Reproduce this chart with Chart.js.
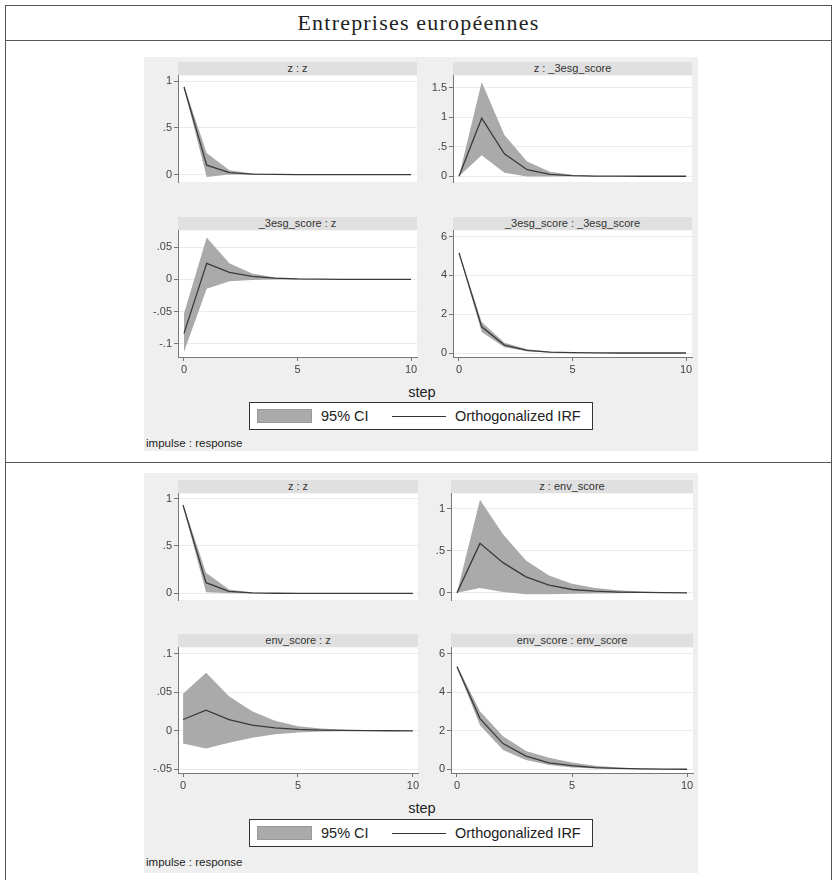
<!DOCTYPE html>
<html>
<head>
<meta charset="utf-8">
<title>Entreprises européennes</title>
<script src="https://cdn.jsdelivr.net/npm/chart.js@4.4.1/dist/chart.umd.min.js"></script>
<style>
    html, body { margin: 0; padding: 0; background: #fff; }
    body { width: 834px; height: 880px; position: relative; overflow: hidden; font-family: "Liberation Sans", Arial, sans-serif; color: #222; }
    .hline { position: absolute; height: 1px; background: #555; }
    .vline { position: absolute; width: 1px; background: #555; }
    .title { position: absolute; left: 5px; width: 827px; top: 11px; line-height: 24px; text-align: center;
             font-family: "Liberation Serif", "DejaVu Serif", serif; font-size: 22px; letter-spacing: 1.2px; color: #222; }
    .panel { position: absolute; left: 144px; width: 554px; background: #efefef; }
    .strip { position: absolute; height: 13px; line-height: 13px; background: #e0e0e0; color: #333; font-size: 11px; text-align: center; }
    .step { position: absolute; left: 372px; width: 100px; text-align: center; font-size: 14.5px; line-height: 16px; color: #222; }
    .note { position: absolute; left: 146px; font-size: 11.5px; line-height: 14px; color: #222; }
    .legend { position: absolute; left: 249px; width: 342px; height: 26px; background: #fff; border: 1px solid #333; }
    .legend .swatch { position: absolute; left: 7px; top: 6px; width: 53px; height: 12px; background: #aaa; border: 1px solid #999; }
    .legend .sample { position: absolute; left: 142px; top: 13px; width: 54px; height: 1px; background: #333; }
    .legend .lbl { position: absolute; top: 5px; font-size: 14.5px; line-height: 16px; color: #222; }
    canvas { position: absolute; }
</style>
</head>
<body>

<div class="hline" style="left:5px; width:827px; top:5px"></div>
<div class="hline" style="left:5px; width:827px; top:40px"></div>
<div class="hline" style="left:5px; width:827px; top:462px"></div>
<div class="vline" style="left:5px; top:5px; height:875px"></div>
<div class="vline" style="left:831px; top:5px; height:875px"></div>
<div class="title">Entreprises européennes</div>

<div class="panel" style="top:57px; height:394px"></div>
<div class="panel" style="top:473px; height:400px"></div>

<div class="step" style="top:384px">step</div>
<div class="step" style="top:800px">step</div>

<div class="legend" style="top:402px">
    <span class="swatch"></span><span class="lbl" style="left:71px">95% CI</span>
    <span class="sample"></span><span class="lbl" style="left:205px">Orthogonalized IRF</span>
</div>
<div class="legend" style="top:819px">
    <span class="swatch"></span><span class="lbl" style="left:71px">95% CI</span>
    <span class="sample"></span><span class="lbl" style="left:205px">Orthogonalized IRF</span>
</div>

<div class="note" style="top:436px">impulse : response</div>
<div class="note" style="top:855px">impulse : response</div>

<script>
// horizon
const steps = [0, 1, 2, 3, 4, 5, 6, 7, 8, 9, 10];
const stepTicks = [0, 5, 10];

// tick values / labels (Stata style)
const zzTicks = [0, 0.5, 1];
const zzLabels = ['0', '.5', '1'];
const esgZeTicks = [0, 0.5, 1, 1.5];
const esgZeLabels = ['0', '.5', '1', '1.5'];
const esgEzTicks = [-0.1, -0.05, 0, 0.05];
const esgEzLabels = ['-.1', '-.05', '0', '.05'];
const eeTicks = [0, 2, 4, 6];
const eeLabels = ['0', '2', '4', '6'];
const envEzTicks = [-0.05, 0, 0.05, 0.1];
const envEzLabels = ['-.05', '0', '.05', '.1'];

// _3esg_score model
const esgZzIrf = [0.94, 0.10, 0.02, 0.005, 0.001, 0, 0, 0, 0, 0, 0];
const esgZzLo  = [0.925, -0.025, 0.0, 0.0, 0, 0, 0, 0, 0, 0, 0];
const esgZzHi  = [0.955, 0.23, 0.045, 0.01, 0.002, 0, 0, 0, 0, 0, 0];

const esgZeIrf = [0, 0.985, 0.38, 0.11, 0.03, 0.01, 0.003, 0.001, 0, 0, 0];
const esgZeLo  = [0, 0.355, 0.06, -0.005, -0.005, -0.002, -0.001, 0, 0, 0, 0];
const esgZeHi  = [0, 1.60, 0.70, 0.25, 0.075, 0.02, 0.006, 0.002, 0.001, 0, 0];

const esgEzIrf = [-0.084, 0.025, 0.011, 0.0046, 0.002, 0.0007, 0.0003, 0.0001, 0, 0, 0];
const esgEzLo  = [-0.113, -0.0145, -0.003, -0.001, 0, 0, 0, 0, 0, 0, 0];
const esgEzHi  = [-0.053, 0.065, 0.025, 0.009, 0.003, 0.001, 0.0004, 0.0002, 0.0001, 0, 0];

const esgEeIrf = [5.16, 1.35, 0.41, 0.14, 0.05, 0.02, 0.007, 0.002, 0.001, 0, 0];
const esgEeLo  = [5.10, 1.09, 0.30, 0.09, 0.03, 0.01, 0.003, 0.001, 0, 0, 0];
const esgEeHi  = [5.22, 1.60, 0.53, 0.20, 0.07, 0.03, 0.01, 0.004, 0.002, 0.001, 0];

// env_score model
const envZzIrf = [0.93, 0.113, 0.02, 0.005, 0.001, 0, 0, 0, 0, 0, 0];
const envZzLo  = [0.915, 0.011, 0.0, 0.001, 0, 0, 0, 0, 0, 0, 0];
const envZzHi  = [0.945, 0.217, 0.04, 0.008, 0.002, 0, 0, 0, 0, 0, 0];

const envZeIrf = [0, 0.59, 0.36, 0.19, 0.092, 0.04, 0.02, 0.01, 0.005, 0.002, 0.001];
const envZeLo  = [0, 0.059, 0.01, -0.017, -0.017, -0.012, -0.007, -0.004, -0.002, -0.001, 0];
const envZeHi  = [0, 1.11, 0.70, 0.386, 0.206, 0.108, 0.059, 0.03, 0.015, 0.007, 0.003];

const envEzIrf = [0.0147, 0.0267, 0.0147, 0.0074, 0.0039, 0.002, 0.001, 0.0005, 0.0002, 0.0001, 0];
const envEzLo  = [-0.0163, -0.0228, -0.0155, -0.009, -0.0043, -0.002, -0.001, -0.0005, -0.0002, -0.0001, 0];
const envEzHi  = [0.048, 0.0755, 0.045, 0.0255, 0.013, 0.006, 0.003, 0.0015, 0.0007, 0.0003, 0.0001];

const envEeIrf = [5.34, 2.64, 1.34, 0.69, 0.34, 0.19, 0.09, 0.05, 0.02, 0.01, 0.005];
const envEeLo  = [5.28, 2.29, 1.00, 0.48, 0.22, 0.10, 0.04, 0.02, 0.01, 0.0, 0.0];
const envEeHi  = [5.40, 3.02, 1.72, 0.96, 0.60, 0.35, 0.19, 0.10, 0.05, 0.02, 0.01];

const Y_AXIS_W = 40;
const PAD = 8;
const X_AXIS_H = 22;

// plot rect = [left, top, width, height] of the white plot region
const subplots = [
    { title: 'z : z', plot: [178, 75, 239, 129], x: [-0.264, 10.264], y: [-0.08, 1.062],
      ticks: zzTicks, labels: zzLabels, irf: esgZzIrf, lo: esgZzLo, hi: esgZzHi, bottom: false },
    { title: 'z : _3esg_score', plot: [453, 75, 239, 129], x: [-0.264, 10.264], y: [-0.098, 1.709],
      ticks: esgZeTicks, labels: esgZeLabels, irf: esgZeIrf, lo: esgZeLo, hi: esgZeHi, bottom: false },
    { title: '_3esg_score : z', plot: [178, 230, 239, 127], x: [-0.264, 10.264], y: [-0.1207, 0.0759],
      ticks: esgEzTicks, labels: esgEzLabels, irf: esgEzIrf, lo: esgEzLo, hi: esgEzHi, bottom: true },
    { title: '_3esg_score : _3esg_score', plot: [453, 230, 239, 127], x: [-0.264, 10.264], y: [-0.205, 6.31],
      ticks: eeTicks, labels: eeLabels, irf: esgEeIrf, lo: esgEeLo, hi: esgEeHi, bottom: true },

    { title: 'z : z', plot: [178, 493, 240, 129], x: [-0.22, 10.22], y: [-0.07, 1.052],
      ticks: zzTicks, labels: zzLabels, irf: envZzIrf, lo: envZzLo, hi: envZzHi, bottom: false },
    { title: 'z : env_score', plot: [451, 493, 242, 129], x: [-0.26, 10.26], y: [-0.085, 1.183],
      ticks: zzTicks, labels: zzLabels, irf: envZeIrf, lo: envZeLo, hi: envZeHi, bottom: false },
    { title: 'env_score : z', plot: [178, 647, 240, 126], x: [-0.22, 10.22], y: [-0.0547, 0.108],
      ticks: envEzTicks, labels: envEzLabels, irf: envEzIrf, lo: envEzLo, hi: envEzHi, bottom: true },
    { title: 'env_score : env_score', plot: [451, 647, 242, 126], x: [-0.26, 10.26], y: [-0.19, 6.33],
      ticks: eeTicks, labels: eeLabels, irf: envEeIrf, lo: envEeLo, hi: envEeHi, bottom: true }
];

const tickFont = { family: '"Liberation Sans", Arial, sans-serif', size: 11 };

const plotBackground = {
    id: 'plotBackground',
    beforeDraw(chart) {
        const { ctx, chartArea: a } = chart;
        ctx.save();
        ctx.fillStyle = '#ffffff';
        ctx.fillRect(a.left, a.top, a.right - a.left, a.bottom - a.top);
        ctx.restore();
    }
};

function toPoints(values) {
    return steps.map((s, i) => ({ x: s, y: values[i] }));
}

function buildSubplot(sp) {
    const [left, top, width, height] = sp.plot;
    const xAxisH = sp.bottom ? X_AXIS_H : 0;

    // header strip
    const strip = document.createElement('div');
    strip.className = 'strip';
    strip.style.left = left + 'px';
    strip.style.top = (top - 13) + 'px';
    strip.style.width = width + 'px';
    strip.textContent = sp.title;
    document.body.appendChild(strip);

    const canvas = document.createElement('canvas');
    canvas.width = Y_AXIS_W + width + PAD;
    canvas.height = PAD + height + xAxisH + PAD;
    canvas.style.left = (left - Y_AXIS_W) + 'px';
    canvas.style.top = (top - PAD) + 'px';
    document.body.appendChild(canvas);

    new Chart(canvas, {
        type: 'line',
        data: {
            datasets: [
                { data: toPoints(sp.irf), borderColor: '#3a3a3a', borderWidth: 1.3, pointRadius: 0, fill: false, tension: 0 },
                { data: toPoints(sp.lo), borderColor: 'rgba(0,0,0,0)', borderWidth: 0, pointRadius: 0, fill: false, tension: 0 },
                { data: toPoints(sp.hi), borderColor: 'rgba(0,0,0,0)', borderWidth: 0, pointRadius: 0, fill: '-1',
                  backgroundColor: '#aaaaaa', tension: 0 }
            ]
        },
        options: {
            responsive: false,
            animation: false,
            devicePixelRatio: 1,
            layout: { padding: { left: 0, top: PAD, right: PAD, bottom: PAD } },
            plugins: { legend: { display: false }, tooltip: { enabled: false } },
            scales: {
                x: {
                    type: 'linear',
                    display: sp.bottom,
                    min: sp.x[0],
                    max: sp.x[1],
                    afterBuildTicks: (scale) => { scale.ticks = stepTicks.map(v => ({ value: v })); },
                    afterFit: (scale) => { scale.height = X_AXIS_H; },
                    grid: { drawOnChartArea: false, tickLength: 4, tickColor: '#777' },
                    border: { color: '#777' },
                    ticks: { font: tickFont, color: '#444', padding: 2, maxRotation: 0, autoSkip: false }
                },
                y: {
                    type: 'linear',
                    min: sp.y[0],
                    max: sp.y[1],
                    afterBuildTicks: (scale) => { scale.ticks = sp.ticks.map(v => ({ value: v })); },
                    afterFit: (scale) => { scale.width = Y_AXIS_W; },
                    grid: { color: '#ebebeb', tickColor: '#777', tickLength: 4 },
                    border: { color: '#777' },
                    ticks: { font: tickFont, color: '#444', padding: 2, autoSkip: false,
                             callback: (value, index) => sp.labels[index] }
                }
            }
        },
        plugins: [plotBackground]
    });
}

subplots.forEach(buildSubplot);
</script>
</body>
</html>
